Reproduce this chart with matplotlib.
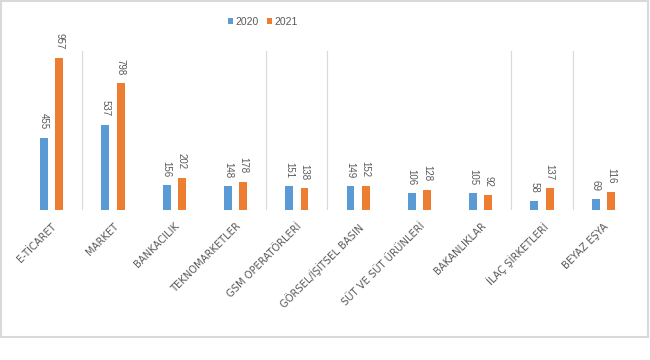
import matplotlib
matplotlib.use("Agg")
import matplotlib.pyplot as plt
from matplotlib.patches import Rectangle
from matplotlib import font_manager
import numpy as np

categories = ["E-TİCARET", "MARKET", "BANKACILIK", "TEKNOMARKETLER", "GSM OPERATÖRLERİ",
              "GÖRSEL/İŞİTSEL BASIN", "SÜT VE SÜT ÜRÜNLERİ", "BAKANLIKLAR",
              "İLAÇ ŞİRKETLERİ", "BEYAZ EŞYA"]
values_2020 = [455, 537, 156, 148, 151, 149, 106, 105, 58, 69]
values_2021 = [957, 798, 202, 178, 138, 152, 128, 92, 137, 116]
series_names = ["2020", "2021"]
separator_after = [0, 3, 4, 7, 8]

blue = "#5B9BD5"
orange = "#ED7D31"
gray_text = "#595959"
grid_gray = "#D9D9D9"

names = {f.name for f in font_manager.fontManager.ttflist}
narrow = "Liberation Sans Narrow" if "Liberation Sans Narrow" in names else "Liberation Sans"

fig = plt.figure(figsize=(6.5, 3.6), dpi=100)
ax = fig.add_axes([21/650, 150/360, 613/650, 159/360])

x = np.arange(len(categories))
w = 0.13
off = 0.125
b1 = ax.bar(x - off, values_2020, w, color=blue, label=series_names[0])
b2 = ax.bar(x + off, values_2021, w, color=orange, label=series_names[1])

for bars in (b1, b2):
    for rect in bars:
        v = rect.get_height()
        ax.annotate(f"{int(v)}", (rect.get_x() + rect.get_width()/2, v),
                    xytext=(0, 6), textcoords="offset points",
                    rotation=270, ha="center", va="bottom",
                    fontsize=7, family=narrow, color=gray_text,
                    annotation_clip=False)

for i in separator_after:
    ax.axvline(i + 0.5, color=grid_gray, lw=0.8, zorder=0)

ax.set_xlim(-0.5, len(categories) - 0.5)
ax.set_ylim(0, 1000)
ax.set_yticks([])
for s in ax.spines.values():
    s.set_visible(False)
ax.set_xticks(x)
ax.set_xticklabels(categories, rotation=45, ha="right", va="top",
                   rotation_mode="anchor", fontsize=7.2, color=gray_text)
ax.tick_params(axis="x", length=0, pad=8)

leg = fig.legend(handles=[b1, b2], labels=series_names, loc="center",
                 bbox_to_anchor=(263/650, 1 - 22/360), ncol=2, frameon=False,
                 prop={"family": narrow, "size": 7.5},
                 handlelength=0.5, handleheight=0.5,
                 handletextpad=0.25, columnspacing=0.8)
for t in leg.get_texts():
    t.set_color(gray_text)

fig.patches.append(Rectangle((1/650, 23/360), 647/650, 336/360,
                             transform=fig.transFigure, fill=False,
                             edgecolor=grid_gray, lw=1.5))

fig.savefig("out.png", dpi=100)
